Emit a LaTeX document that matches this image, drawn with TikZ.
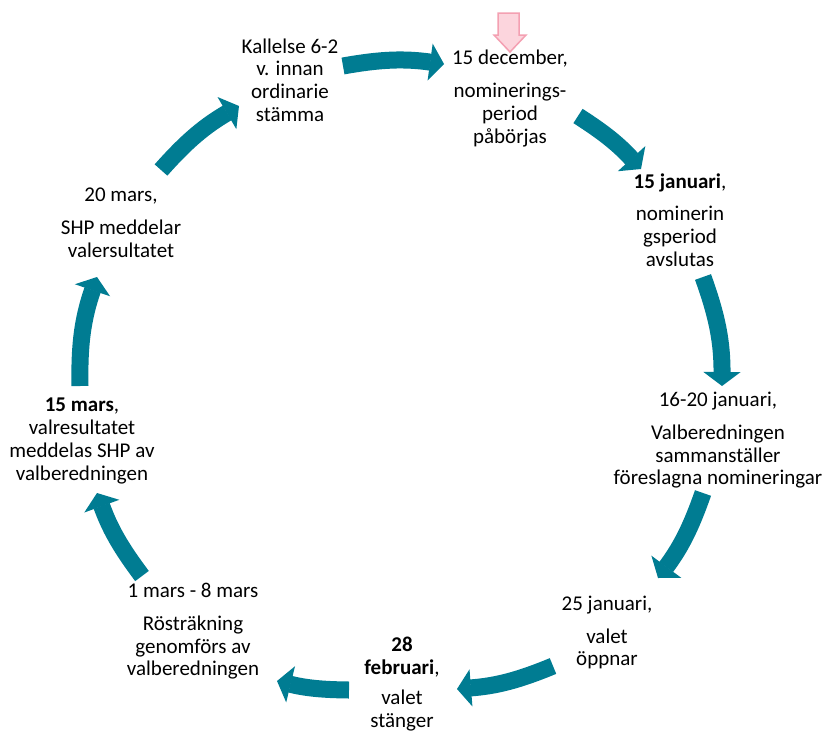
\documentclass[tikz,border=0pt]{standalone}
\usepackage{fontspec}
\setmainfont{Carlito}
\usetikzlibrary{arrows.meta}
\definecolor{tealarrow}{RGB}{0,124,146}
\definecolor{pinkfill}{RGB}{252,213,221}
\definecolor{pinkline}{RGB}{244,160,178}
\begin{document}
\begin{tikzpicture}[x=1pt,y=-1pt,
  lbl/.style={align=center, font=\fontsize{21}{22.7}\selectfont, inner sep=0pt},
  cyc/.style={tealarrow, line width=17pt, line cap=butt,
    -{Triangle[width=37pt,length=14pt,line width=1.5pt]}},
  marker/.style={draw=pinkline, fill=pinkfill, line width=1.5pt, line join=miter},
]
\useasboundingbox (0,0) rectangle (827,731);
\fill[white] (0,0) rectangle (827,731);

% labels
\node[lbl] (kallelse) at (290,80) {Kallelse 6-2\\v. innan\\ordinarie\\stämma};
\node[lbl] (dec) at (510,98.5) {15 december,\\[10pt]nominerings-\\period\\påbörjas};
\node[lbl] (jan15) at (680,220) {\textbf{15 januari},\\[10pt]nominerin\\gsperiod\\avslutas};
\node[lbl] (jan16) at (718,440.5) {16-20 januari,\\[10pt]Valberedningen\\sammanställer\\föreslagna nomineringar};
\node[lbl] (jan25) at (607,632.5) {25 januari,\\[10pt]valet\\öppnar};
\node[lbl] (feb28) at (402,684) {\textbf{28}\\\textbf{februari},\\[7pt]valet\\stänger};
\node[lbl] (mar1) at (193,631.5) {1 mars - 8 mars\\[10pt]Rösträkning\\genomförs av\\valberedningen};
\node[lbl] (mar15) at (82,441) {\textbf{15 mars},\\valresultatet\\meddelas SHP av\\valberedningen};
\node[lbl] (mar20) at (121,222.75) {20 mars,\\[10pt]SHP meddelar\\valersultatet};

% arrow end points
\coordinate (a1s) at (343,66);  \coordinate (a1e) at (444,64);
\coordinate (a2s) at (578,116); \coordinate (a2e) at (641,169);
\coordinate (a3s) at (703,277); \coordinate (a3e) at (722,386);
\coordinate (a4s) at (703,493); \coordinate (a4e) at (658,578);
\coordinate (a5s) at (553,666); \coordinate (a5e) at (457,689);
\coordinate (a6s) at (349,690); \coordinate (a6e) at (277,681);
\coordinate (a7s) at (142,576); \coordinate (a7e) at (97,493);
\coordinate (a8s) at (80,386);  \coordinate (a8e) at (97,277);
\coordinate (a9s) at (161,170); \coordinate (a9e) at (239,106);

\draw[cyc] (a1s) to[bend left=9] (a1e);
\draw[cyc] (a2s) to[bend left=7.5] (a2e);
\draw[cyc] (a3s) to[bend left=10] (a3e);
\draw[cyc] (a4s) to[bend left=8.7] (a4e);
\draw[cyc] (a5s) to[bend left=9] (a5e);
\draw[cyc] (a6s) to[bend left=6.6] (a6e);
\draw[cyc] (a7s) to[bend left=8.5] (a7e);
\draw[cyc] (a8s) to[bend left=10] (a8e);
\draw[cyc] (a9s) to[bend left=9] (a9e);

% pink start marker
\draw[marker] (498,13) -- (519,13) -- (519,35) -- (526,35) -- (510,52) -- (494,35) -- (498,35) -- cycle;
\end{tikzpicture}
\end{document}
